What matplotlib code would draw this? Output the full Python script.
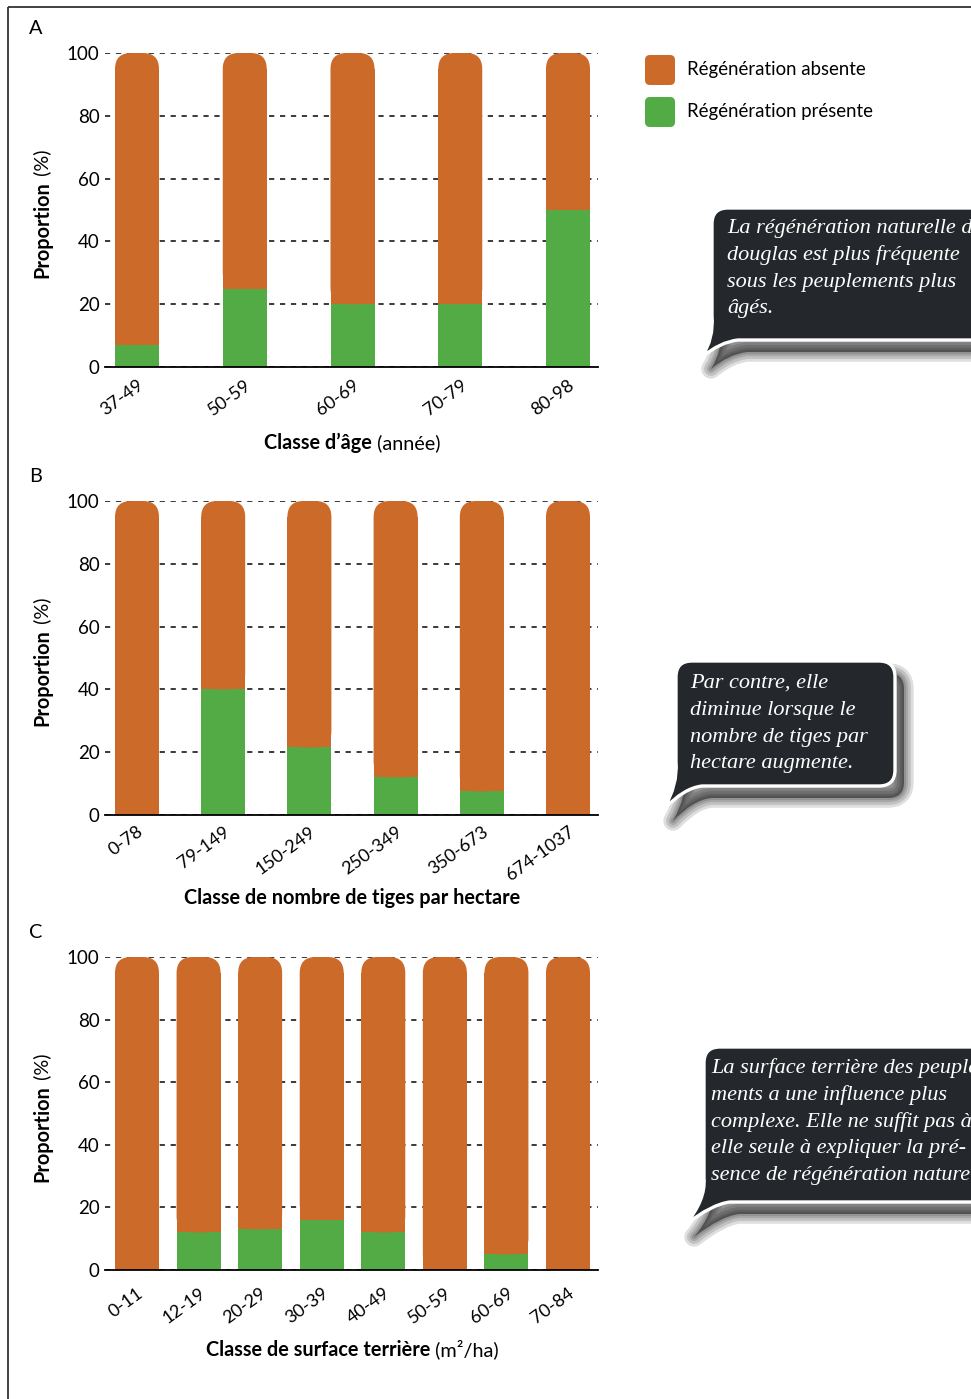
import numpy as np
import matplotlib
matplotlib.use('Agg')
import matplotlib.pyplot as plt
from matplotlib.patches import FancyBboxPatch, PathPatch, BoxStyle
from matplotlib.path import Path
from matplotlib.transforms import Affine2D

plt.rcParams['font.family'] = ['Lato', 'DejaVu Sans']

# values (% of plots with regeneration present)
age_classes = ['37-49', '50-59', '60-69', '70-79', '80-98']
age_present = [7, 25, 20, 20, 50]

tiges_classes = ['0-78', '79-149', '150-249', '250-349', '350-673', '674-1037']
tiges_present = [0, 40, 21.5, 12, 7.5, 0]

surface_classes = ['0-11', '12-19', '20-29', '30-39', '40-49', '50-59', '60-69', '70-84']
surface_present = [0, 12, 13, 16, 12, 0, 5, 0]

yticks = [0, 20, 40, 60, 80, 100]
legend_labels = ['Régénération absente', 'Régénération présente']

bubble_a = ['La régénération naturelle du',
            'douglas est plus fréquente',
            'sous les peuplements plus',
            'âgés.']
bubble_b = ['Par contre, elle',
            'diminue lorsque le',
            'nombre de tiges par',
            'hectare augmente.']
bubble_c = ['La surface terrière des peuple-',
            'ments a une influence plus',
            'complexe. Elle ne suffit pas à',
            'elle seule à expliquer la pré-',
            'sence de régénération naturelle.']

ORANGE = '#CC6A29'
GREEN = '#52AB45'
BUBBLE = '#24272B'
GRID = '#222222'
FS_TICK = 13.5
FS_XTICK = 13
FS_LAB = 14.3

W, H = 971, 1399
fig = plt.figure(figsize=(W / 100, H / 100), dpi=100)
ov = fig.add_axes([0, 0, 1, 1])
ov.set_xlim(0, W)
ov.set_ylim(H, 0)
ov.axis('off')
renderer = fig.canvas.get_renderer()

# frame (top and left only, rest is cut)
ov.plot([8, 8], [H, 7], color='#333333', lw=1.3, solid_capstyle='butt')
ov.plot([8, W], [7, 7], color='#333333', lw=1.3, solid_capstyle='butt')


def hlabel(parts, ybase):
    ts = [ov.text(0, ybase, s, fontsize=FS_LAB, fontweight=w, ha='left', va='baseline')
          for s, w in parts]
    widths = [t.get_window_extent(renderer).width for t in ts]
    x = 352 - sum(widths) / 2
    for t, w in zip(ts, widths):
        t.set_x(x)
        x += w


def vlabel(parts, ystart):
    y = ystart
    for s, w in parts:
        t = ov.text(48, y, s, fontsize=FS_LAB, fontweight=w, rotation=90,
                    rotation_mode='anchor', ha='left', va='baseline')
        y -= t.get_window_extent(renderer).height


def panel(top, bottom, classes, present, letter, xlab, tick_pad, lab_off):
    ax = fig.add_axes([105 / W, 1 - bottom / H, 493 / W, (bottom - top) / H])
    n = len(classes)
    x = np.arange(n)
    present = np.array(present, dtype=float)
    absent = 100 - present
    step = (568 - 137) / (n - 1)
    ax.set_xlim(-32 / step, n - 1 + 30 / step)
    ax.set_ylim(0, 100)
    width = 44 / step
    rx = 16 / step
    ry = 16 / ((bottom - top) / 100)
    ax.bar(x, present, width, color=GREEN, zorder=2)
    ax.bar(x, absent - ry, width, bottom=present, color=ORANGE, zorder=2)
    for xi, p, a in zip(x, present, absent):
        ax.add_patch(FancyBboxPatch((xi - width / 2, p), width, a,
                                    boxstyle=BoxStyle.Round(pad=0, rounding_size=rx),
                                    mutation_aspect=ry / rx, fc=ORANGE, ec='none', zorder=2))
    ax.set_yticks(yticks)
    ax.yaxis.grid(True, linestyle=(0, (3, 3.3)), color=GRID, lw=1.25)
    ax.set_axisbelow(True)
    for s in ['top', 'right', 'left']:
        ax.spines[s].set_visible(False)
    ax.spines['bottom'].set_linewidth(1.3)
    ax.spines['bottom'].set_zorder(3)
    ax.tick_params(axis='y', length=0, pad=4, labelsize=FS_TICK)
    ax.set_xticks(x)
    ax.set_xticklabels(classes, rotation=36, ha='right', va='top',
                       rotation_mode='anchor', fontsize=FS_XTICK)
    ax.tick_params(axis='x', length=0, pad=tick_pad)
    ax.patch.set_alpha(0)

    ov.text(36, top - 24, letter, fontsize=FS_LAB, ha='center', va='center')
    vlabel([('Proportion', 'bold'), (' (%)', 'normal')], top + 225)
    hlabel(xlab, bottom + lab_off)
    return ax


panel(53, 367, age_classes, age_present, 'A',
      [('Classe d’âge', 'bold'), (' (année)', 'normal')], 7, 82)
panel(501, 815, tiges_classes, tiges_present, 'B',
      [('Classe de nombre de tiges par hectare', 'bold')], 6, 89)
panel(957, 1270, surface_classes, surface_present, 'C',
      [('Classe de surface terrière', 'bold'), (' (m²/ha)', 'normal')], 11, 86)

# legend
for i, (lab, col) in enumerate(zip(legend_labels, [ORANGE, GREEN])):
    y0 = 55 + 42 * i
    ov.add_patch(FancyBboxPatch((645, y0), 30, 30,
                                boxstyle=BoxStyle.Round(pad=0, rounding_size=5),
                                fc=col, ec='none'))
    ov.text(687, y0 + 15, lab, fontsize=13.4, ha='left', va='center')


def bubble_path(x0, y0, x1, y1, tip, r=16):
    tx, ty = tip
    verts = [(x0 + r, y0), (x1 - r, y0), (x1, y0), (x1, y0 + r),
             (x1, y1 - r), (x1, y1), (x1 - r, y1),
             (x0 + 26, y1), (x0 + 8, y1 + 2), (tx, ty),
             (x0 + 2, y1 - 2), (x0, y1 - 24),
             (x0, y0 + r), (x0, y0), (x0 + r, y0), (x0 + r, y0)]
    codes = [Path.MOVETO, Path.LINETO, Path.CURVE3, Path.CURVE3,
             Path.LINETO, Path.CURVE3, Path.CURVE3,
             Path.LINETO, Path.CURVE3, Path.CURVE3,
             Path.CURVE3, Path.CURVE3,
             Path.LINETO, Path.CURVE3, Path.CURVE3, Path.CLOSEPOLY]
    return Path(verts, codes)


def bubble(box, tip, lines, tx, ty0):
    p = bubble_path(*box, tip)
    sh = p.transformed(Affine2D().translate(9, 12))
    for lw in [14, 10, 6, 3]:
        ov.add_patch(PathPatch(sh, fc=(0, 0, 0, 0.13), ec=(0, 0, 0, 0.13), lw=lw,
                               joinstyle='round', zorder=2))
    ov.add_patch(PathPatch(p, fc=BUBBLE, ec='white', lw=2.4, zorder=3))
    for i, line in enumerate(lines):
        ov.text(tx, ty0 + 26.8 * i, line, color='white', fontsize=16,
                family=['Liberation Serif', 'DejaVu Serif'], style='italic',
                ha='left', va='baseline', zorder=4)


# the two wide bubbles run past the right edge, as in the original page crop
bubble((712, 208, 1010, 340), (702, 357), bubble_a, 727, 233)
bubble((676, 661, 895, 786), (664, 809), bubble_b, 690, 688)
bubble((704, 1047, 1010, 1202), (685, 1225), bubble_c, 711, 1073)

fig.savefig('out.png', dpi=100)
